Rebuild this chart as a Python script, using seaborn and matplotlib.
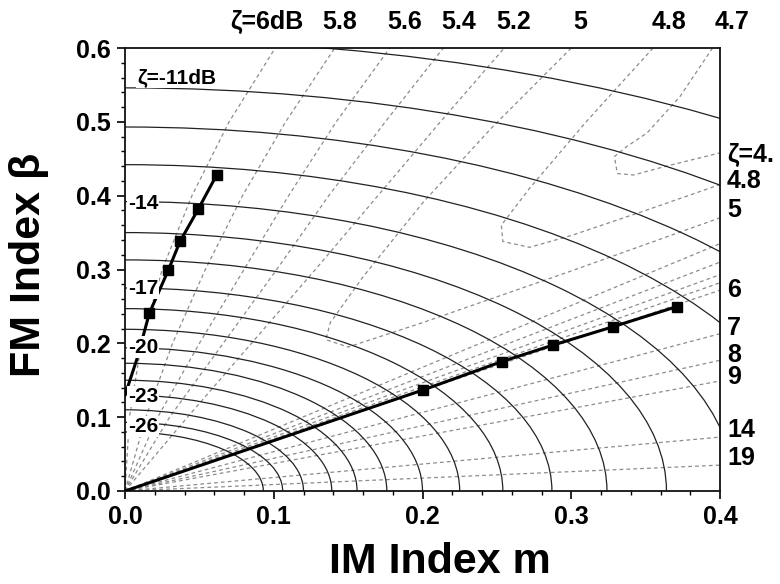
import matplotlib
matplotlib.use('Agg')
import matplotlib.pyplot as plt
from matplotlib.patches import Ellipse
import pandas as pd
import seaborn as sns

# ── 实线等值线（ellipse）：电平 dB, m 轴截距, β 轴截距 ──
SOLID_LEVELS = [-10, -11, -12, -13, -14, -15, -16, -17, -18,
                -19, -20, -21, -22, -23, -24, -25, -26]
SOLID_M0 = [0.710, 0.614, 0.531, 0.467, 0.410, 0.364, 0.324, 0.287, 0.254,
            0.225, 0.200, 0.176, 0.156, 0.139, 0.120, 0.106, 0.093]
SOLID_B0 = [0.611, 0.546, 0.493, 0.442, 0.392, 0.350, 0.313, 0.275, 0.247,
            0.219, 0.194, 0.173, 0.150, 0.130, 0.110, 0.093, 0.080]

LEFT_LABELS = ['ζ=-11dB', '-14', '-17', '-20', '-23', '-26']
LEFT_LABEL_M = [0.008, 0.002, 0.002, 0.002, 0.002, 0.002]
LEFT_LABEL_B = [0.560, 0.390, 0.274, 0.195, 0.128, 0.087]

# ── 虚线等值线 ζ ──
TOP_BETA = [0.0, 0.1, 0.2, 0.3, 0.4, 0.5, 0.6]
TOP_M_6 = [0.0, 0.003, 0.011, 0.025, 0.045, 0.070, 0.101]
TOP_M_58 = [0.0, 0.014, 0.032, 0.054, 0.079, 0.108, 0.141]
TOP_M_56 = [0.0, 0.022, 0.050, 0.080, 0.110, 0.142, 0.178]
TOP_M_54 = [0.0, 0.030, 0.066, 0.102, 0.137, 0.175, 0.214]
TOP_M_52 = [0.0, 0.042, 0.085, 0.128, 0.170, 0.212, 0.255]

LOOP_5_M = [0.300, 0.247, 0.200, 0.160, 0.138, 0.135, 0.150, 0.200, 0.300, 0.400]
LOOP_5_B = [0.600, 0.493, 0.390, 0.290, 0.228, 0.205, 0.195, 0.228, 0.298, 0.370]
LOOP_48_M = [0.355, 0.310, 0.272, 0.253, 0.254, 0.272, 0.300, 0.350, 0.400]
LOOP_48_B = [0.600, 0.500, 0.410, 0.360, 0.338, 0.330, 0.346, 0.380, 0.415]
LOOP_47_M = [0.395, 0.373, 0.351, 0.337, 0.329, 0.331, 0.342, 0.362, 0.400]
LOOP_47_B = [0.600, 0.534, 0.485, 0.466, 0.453, 0.430, 0.428, 0.439, 0.458]

# 右侧射线：在 m=0.4 处的 β
RIGHT_ZETA = [5.2, 5.4, 5.6, 5.8, 6, 7, 8, 9, 14, 19]
RIGHT_EDGE_B = [0.335, 0.310, 0.293, 0.282, 0.272, 0.213, 0.177, 0.149, 0.073, 0.035]

TOP_LABELS = ['ζ=6dB', '5.8', '5.6', '5.4', '5.2', '5', '4.8', '4.7']
TOP_LABEL_M = [0.0955, 0.1445, 0.188, 0.2245, 0.2615, 0.306, 0.366, 0.408]
RIGHT_LABELS = ['ζ=4.', '4.8', '5', '6', '7', '8', '9', '14', '19']
RIGHT_LABEL_B = [0.455, 0.420, 0.381, 0.272, 0.221, 0.184, 0.154, 0.083, 0.045]

# ── 测量数据 ──
STEEP_M = [0.0, 0.0038, 0.0079, 0.0164, 0.0291, 0.0370, 0.0493, 0.0616]
STEEP_B = [0.130, 0.153, 0.178, 0.241, 0.299, 0.338, 0.382, 0.428]
STEEP_MARK_M = [0.0164, 0.0291, 0.0370, 0.0493, 0.0616]
STEEP_MARK_B = [0.241, 0.299, 0.338, 0.382, 0.428]
FLAT_M = [0.0, 0.2006, 0.2532, 0.2880, 0.3283, 0.3709]
FLAT_B = [0.0, 0.1370, 0.1752, 0.1978, 0.2226, 0.2497]

sns.set_theme(style='ticks')
plt.rcParams['font.family'] = ['Liberation Sans', 'DejaVu Sans']
plt.rcParams['font.weight'] = 'bold'
for key in ('text.color', 'axes.labelcolor', 'xtick.color', 'ytick.color',
            'axes.edgecolor'):
    plt.rcParams[key] = 'black'


def build_dashed():
    """把各条虚线等值线整理成长表，供 seaborn 按 curve 分组绘制。"""
    rows = []
    tops = {'t6': TOP_M_6, 't58': TOP_M_58, 't56': TOP_M_56,
            't54': TOP_M_54, 't52': TOP_M_52}
    for name, ms in tops.items():
        for i, (m, b) in enumerate(zip(ms, TOP_BETA)):
            rows.append((name, i, m, b))
    loops = {'l5': (LOOP_5_M, LOOP_5_B), 'l48': (LOOP_48_M, LOOP_48_B),
             'l47': (LOOP_47_M, LOOP_47_B)}
    for name, (ms, bs) in loops.items():
        for i, (m, b) in enumerate(zip(ms, bs)):
            rows.append((name, i, m, b))
    for z, b in zip(RIGHT_ZETA, RIGHT_EDGE_B):
        rows.append((f'r{z}', 0, 0.0, 0.0))
        rows.append((f'r{z}', 1, 0.4, b))
    return pd.DataFrame(rows, columns=['curve', 'order', 'm', 'beta'])


fig = plt.figure(figsize=(7.8, 5.84), dpi=100)
ax = fig.add_axes([125 / 780, 93 / 584, 595 / 780, 443 / 584])

# 虚线族
dashed = build_dashed()
sns.lineplot(data=dashed, x='m', y='beta', units='curve', estimator=None,
             sort=False, color='#8c8c8c', lw=0.9,
             linestyle=(0, (3, 2.5)), ax=ax, zorder=1)

# 实线族
for a, b in zip(SOLID_M0, SOLID_B0):
    ax.add_patch(Ellipse((0, 0), 2 * a, 2 * b, fill=False,
                         edgecolor='#222222', lw=0.9, zorder=2))

# 测量数据
sns.lineplot(x=STEEP_M, y=STEEP_B, sort=False, color='black', lw=2.2,
             ax=ax, zorder=4)
sns.lineplot(x=FLAT_M, y=FLAT_B, sort=False, color='black', lw=2.2,
             ax=ax, zorder=4)
ax.plot(STEEP_MARK_M, STEEP_MARK_B, 's', color='black', ms=7, zorder=5)
ax.plot(FLAT_M[1:], FLAT_B[1:], 's', color='black', ms=7, zorder=5)

# 左侧标注（白底遮住下面的线）
for txt, m, b in zip(LEFT_LABELS, LEFT_LABEL_M, LEFT_LABEL_B):
    ax.text(m, b, txt, fontsize=15, fontweight='bold', va='center',
            ha='left', zorder=6,
            bbox=dict(facecolor='white', edgecolor='none', pad=0.8))

# 上方、右侧标注
for txt, m in zip(TOP_LABELS, TOP_LABEL_M):
    ax.text(m, 0.635, txt, fontsize=18, fontweight='bold', ha='center',
            va='center', clip_on=False)
for txt, b in zip(RIGHT_LABELS, RIGHT_LABEL_B):
    ax.text(0.4047, b, txt, fontsize=18, fontweight='bold', ha='left',
            va='center', clip_on=False)

ax.set_xlim(0, 0.4)
ax.set_ylim(0, 0.6)
ax.set_xticks([0.0, 0.1, 0.2, 0.3, 0.4])
ax.set_yticks([0.0, 0.1, 0.2, 0.3, 0.4, 0.5, 0.6])
ax.set_xticks([i * 0.02 for i in range(21)], minor=True)
ax.set_yticks([i * 0.02 for i in range(31)], minor=True)
ax.set_xticklabels(['0.0', '0.1', '0.2', '0.3', '0.4'])
ax.set_yticklabels(['0.0', '0.1', '0.2', '0.3', '0.4', '0.5', '0.6'])
ax.tick_params(which='major', direction='out', length=6, width=1.2,
               labelsize=18, pad=4, colors='black')
ax.tick_params(which='minor', direction='out', length=3, width=1.0,
               colors='black')
for lab in ax.get_xticklabels() + ax.get_yticklabels():
    lab.set_fontweight('bold')
for sp in ax.spines.values():
    sp.set_linewidth(1.3)
    sp.set_color('#111111')

ax.set_xlabel('IM Index m', fontsize=31, fontweight='bold')
ax.set_ylabel('FM Index β', fontsize=31, fontweight='bold')
ax.xaxis.set_label_coords(0.529, -0.115)
ax.yaxis.set_label_coords(-0.128, 0.51)

fig.savefig('out.png', dpi=100)
